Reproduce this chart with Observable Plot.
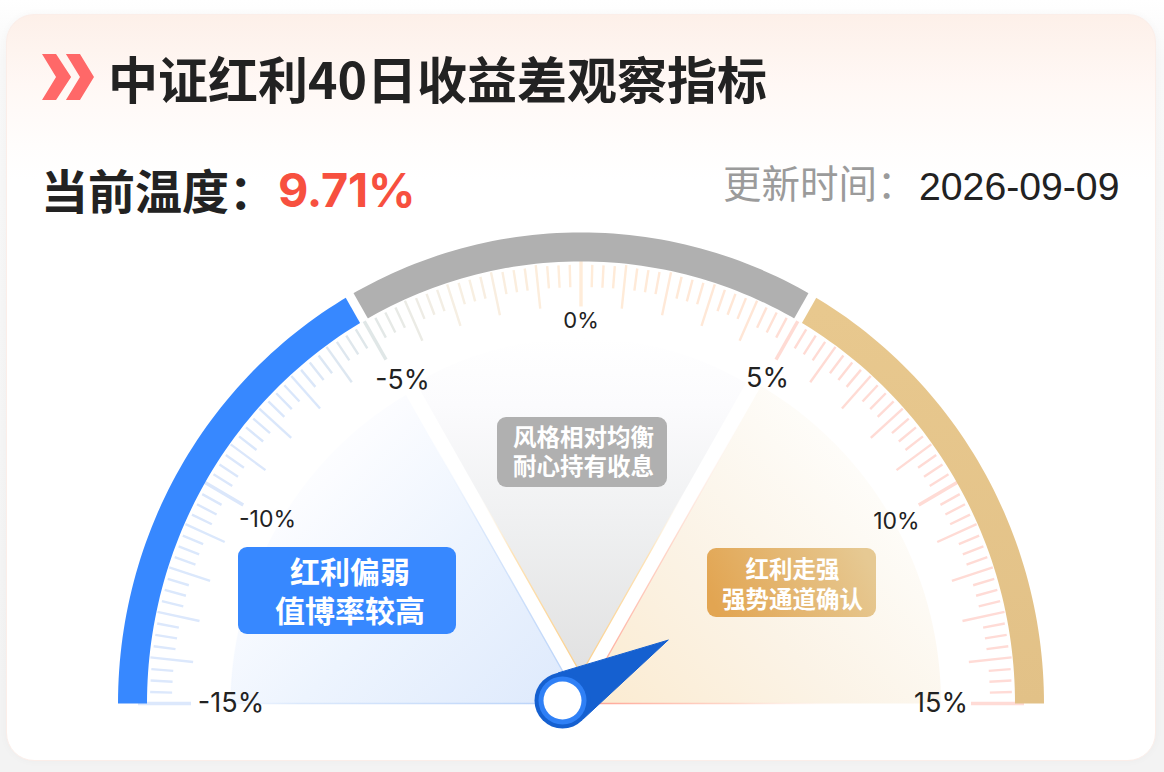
<!DOCTYPE html>
<html lang="zh">
<head>
<meta charset="utf-8">
<script src="https://cdn.jsdelivr.net/npm/d3@7"></script>
<script src="https://cdn.jsdelivr.net/npm/@observablehq/plot@0.6"></script>
<style>
  html,body{margin:0;padding:0;width:1164px;height:772px;overflow:hidden;
    background:linear-gradient(180deg,#fff 0,#f8f8f8 60px,#f3f3f3 700px);}
  #card{position:absolute;left:6px;top:14px;width:1150px;height:747px;border-radius:28px;box-sizing:border-box;
    border:1px solid #fbeee9;overflow:hidden;background:linear-gradient(180deg,#fdf0e9 0,#fff8f5 70px,#fffdfc 130px,#fff 165px,#fff 100%);
    box-shadow:0 0 8px rgba(0,0,0,.03);}
  .abs{position:absolute;white-space:nowrap;line-height:1;}
  #chev{left:42px;top:54px;width:52px;height:46px;background:#ff6868;
    clip-path:polygon(0 0,27% 0,56% 50%,27% 100%,0 100%,27% 50%,0 0, 46% 0,73% 0,100% 50%,73% 100%,46% 100%,73% 50%,46% 0);}
  #title{left:108px;top:41px;font:600 50px "Noto Sans CJK SC",sans-serif;color:#222;}
  #temp{left:41px;top:154px;font:600 47px "Noto Sans CJK SC",sans-serif;color:#222;}
  #val{left:278px;top:162px;font:700 46.8px Inter,"Liberation Sans",sans-serif;color:#f7503f;letter-spacing:-.2px;}
  #upd{left:723px;top:153px;font:400 38.5px "Noto Sans CJK SC",sans-serif;color:#9b9b9b;}
  #date{left:919px;top:165px;font:400 39.2px "Liberation Sans",sans-serif;color:#222;}
  #plot{position:absolute;left:0;top:225px;}
  #plot svg{display:block;background:transparent;}
</style>
</head>
<body>
<div id="card"></div>
<div class="abs" id="chev"></div>
<div class="abs" id="title">中证红利40日收益差观察指标</div>
<div class="abs" id="temp">当前温度：</div>
<div class="abs" id="val">9.71%</div>
<div class="abs" id="upd">更新时间：</div>
<div class="abs" id="date">2026-09-09</div>
<div id="plot"></div>
<script>
// ---------- data ----------
const currentValue = 9.71;
const zoneStart  = [-15, -5, 5];
const zoneEnd    = [-5, 5, 15];
const zoneColors = ["url(#bandBlue)", "#b0b0b0", "url(#bandGold)"];
const labelValues = [-15, -10, -5, 0, 5, 10, 15];
const labelTexts  = ["-15%", "-10%", "-5%", "0%", "5%", "10%", "15%"];
const pillTexts   = ["红利偏弱\n值博率较高", "风格相对均衡\n耐心持有收息", "红利走强\n强势通道确认"];
const tickColorStops = [-15, -7, -5, -3, 0, 4, 5, 15];
const tickColorRange = ["#dce8fc", "#dae7fb", "#e0e7e7", "#f6efe3", "#ffecd9", "#ffe6d6", "#ffdbd4", "#ffdbd6"];

// ---------- geometry of the gauge (display settings, not data) ----------
const W = 1164, H = 547, cxPx = 580.5, cyPx = 478, yStretch = 1.018;
const degPerUnit = 6, startDeg = 180;
const bandR = 448.5, bandW = 29;
const labelR = [351, 362, 364, 376, 369, 363, 360];
const labelDx = [1, 0, 3.5, 0, 2, 1, 0];
const labelDy = [0, 0, 2, 0, 0, -3, 0];
const labelSize = [27, 23, 26.5, 22, 27, 23, 27];
const rad = v => (startDeg - (v + 15) * degPerUnit) * Math.PI / 180;
const px = (v, r) => r * Math.cos(rad(v));
const py = (v, r) => r * Math.sin(rad(v));
const arc = (a, b, r) => d3.range(0, 61).map(i => {
  const v = a + (b - a) * i / 60;
  return {x: px(v, r), y: py(v, r)};
});

const ticks = d3.range(0, 121).map(i => {
  const v = -15 + i * 0.25;
  const kind = i % 20 === 0 ? 2 : i % 4 === 0 ? 1 : 0;
  return {v, kind, r1: kind ? 390 : 409, r2: kind === 2 ? 443 : kind ? 433 : 431};
});

const wedge = (a, b, r, ox, oy) => [{x: ox, y: oy}, ...arc(a, b, r).map(p => ({x: ox + p.x, y: oy + p.y})), {x: ox, y: oy}];
const wedgeBlue = wedge(-15, -5, 350, 0, 0);
const wedgeGray = wedge(-5, 5, 330, 0, 29);
const wedgeGold = wedge(5, 15, 360, 0, 0);

// needle
const pivot = {x: -18.5, y: 2.9};
const needleLen = 121, trimDeg = 2.4;
const nAng = rad(currentValue) - trimDeg * Math.PI / 180;
const tip = {x: pivot.x + needleLen * Math.cos(nAng), y: pivot.y + needleLen * Math.sin(nAng)};
const tangentA = nAng + 1.22, tangentB = nAng - 1.22, hub = 27.5;
const needle = [
  tip,
  {x: pivot.x + hub * Math.cos(tangentA), y: pivot.y + hub * Math.sin(tangentA)},
  {x: pivot.x + hub * Math.cos(tangentB), y: pivot.y + hub * Math.sin(tangentB)},
  tip
];

// pills, given in gauge units from the centre
const toX = p => p - cxPx, toY = p => (cyPx + 225 - p) / yStretch;
const pills = [
  {x1: toX(238), x2: toX(456), y1: toY(634), y2: toY(547), fill: "#3788ff", tx: toX(349.5), ty: toY(589.5), size: 30, lh: 1.3, text: pillTexts[0]},
  {x1: toX(497), x2: toX(667), y1: toY(487), y2: toY(417), fill: "#b0b0b0", tx: toX(583), ty: toY(451), size: 23.5, lh: 1.23, text: pillTexts[1]},
  {x1: toX(707), x2: toX(876), y1: toY(617), y2: toY(548), fill: "url(#pillGold)", tx: toX(792), ty: toY(583), size: 23.5, lh: 1.27, text: pillTexts[2]}
];

const grad = (id, x1, y1, x2, y2, stops) => {
  const g = d3.create("svg:linearGradient").attr("id", id)
    .attr("x1", x1).attr("y1", y1).attr("x2", x2).attr("y2", y2);
  stops.forEach(([o, c, a]) => g.append("stop").attr("offset", o).attr("stop-color", c).attr("stop-opacity", a));
  return g.node();
};
const defsMark = () => {
  const d = d3.create("svg:defs");
  [
    grad("bandBlue", 0, 1, 1, 0, [[0, "#3788ff", 1], [1, "#3788ff", 1]]),
    grad("bandGold", 0, 0, 0, 1, [[0, "#e8c88e", 1], [1, "#e2c187", 1]]),
    grad("pillGold", 0, .6, 1, .4, [[0, "#e2a552", 1], [1, "#e6c993", 1]]),
    grad("fillBlue", 1, 1, .1, .2, [[0, "#dde9fc", 1], [.5, "#edf4fe", 1], [.85, "#fbfcff", 1], [1, "#ffffff", .8]]),
    grad("fillGold", 0, 1, .85, .3, [[0, "#fbebd0", 1], [.5, "#fbf3e6", 1], [1, "#fefdfa", 1]]),
    grad("fillGray", 0, 1, 0, 0, [[0, "#e1e1e1", 1], [.45, "#eff0f1", 1], [.8, "#fbfbfd", 1], [1, "#ffffff", 1]]),
    grad("edgeBlue", 1, 1, .1, .2, [[0, "#b5d0f8", 1], [.5, "#d4e4fb", .8], [.78, "#ffffff", 0], [1, "#ffffff", 0]]),
    grad("edgeGold", 0, 1, .75, .75, [[0, "#ff9f90", 1], [.5, "#ffc9ba", .7], [.95, "#ffffff", 0], [1, "#ffffff", 0]]),
    grad("edgeGray", .5, 1, .5, .45, [[0, "#fbd08c", 1], [.65, "#fde3b8", 1], [1, "#ffffff", 0]])
  ].forEach(n => d.node().appendChild(n));
  return d.node();
};

const cjk = "Noto Sans CJK SC";
const chart = Plot.plot({
  width: W, height: H,
  margin: 0,
  style: {background: "transparent", overflow: "visible"},
  x: {type: "linear", domain: [-cxPx, W - cxPx], range: [0, W], axis: null},
  y: {type: "linear", domain: [cyPx / yStretch, (cyPx - H) / yStretch], range: [0, H], axis: null},
  color: {type: "linear", domain: tickColorStops, range: tickColorRange, legend: false},
  marks: [
    defsMark,
    // sectors
    Plot.line(wedgeBlue, {x: "x", y: "y", fill: "url(#fillBlue)", stroke: "url(#edgeBlue)", strokeWidth: 1.4, curve: "linear"}),
    Plot.line(wedgeGray, {x: "x", y: "y", fill: "url(#fillGray)", stroke: "url(#edgeGray)", strokeWidth: 1.4, curve: "linear"}),
    Plot.line(wedgeGold, {x: "x", y: "y", fill: "url(#fillGold)", stroke: "url(#edgeGold)", strokeWidth: 1.4, curve: "linear"}),
    // tick marks
    Plot.link(ticks.filter(d => d.kind === 0), {
      x1: d => px(d.v, d.r1), y1: d => py(d.v, d.r1),
      x2: d => px(d.v, d.r2), y2: d => py(d.v, d.r2),
      stroke: "v", strokeWidth: 2.4, strokeLinecap: "butt"
    }),
    Plot.link(ticks.filter(d => d.kind === 1), {
      x1: d => px(d.v, d.r1), y1: d => py(d.v, d.r1),
      x2: d => px(d.v, d.r2), y2: d => py(d.v, d.r2),
      stroke: "v", strokeWidth: 2.4, strokeLinecap: "butt"
    }),
    Plot.link(ticks.filter(d => d.kind === 2), {
      x1: d => px(d.v, d.r1), y1: d => py(d.v, d.r1),
      x2: d => px(d.v, d.r2), y2: d => py(d.v, d.r2),
      stroke: "v", strokeWidth: 3.4, strokeLinecap: "butt"
    }),
    // coloured band with white gaps
    ...zoneStart.map((s, i) => Plot.line(arc(s, zoneEnd[i], bandR), {
      x: "x", y: "y", stroke: zoneColors[i], strokeWidth: bandW, strokeLinecap: "butt", curve: "linear"
    })),
    Plot.link([-5, 5], {
      x1: d => px(d, bandR - bandW / 2 - 0.5), y1: d => py(d, bandR - bandW / 2 - 0.5),
      x2: d => px(d, bandR + bandW / 2 + 2), y2: d => py(d, bandR + bandW / 2 + 2),
      stroke: "#fff", strokeWidth: 9
    }),
    // value labels
    Plot.text(labelValues, {
      x: (d, i) => px(d, labelR[i]) + labelDx[i], y: (d, i) => py(d, labelR[i]) + labelDy[i],
      text: (d, i) => labelTexts[i], fontSize: (d, i) => labelSize[i],
      fontFamily: "Inter, Liberation Sans, sans-serif", letterSpacing: "-0.04em", fill: "#222"
    }),
    // zone pills
    Plot.rect(pills, {x1: "x1", x2: "x2", y1: "y1", y2: "y2", fill: "fill", rx: 9}),
    ...pills.map(p => Plot.text([p], {
      x: "tx", y: "ty", text: "text", fill: "#fff", fontSize: p.size, lineHeight: p.lh,
      fontFamily: cjk, fontWeight: 600, textAnchor: "middle"
    })),
    // needle
    Plot.line(needle, {x: "x", y: "y", fill: "#1560d0", stroke: "#1560d0", strokeWidth: 1, strokeLinejoin: "miter", curve: "linear"}),
    Plot.dot([pivot], {x: "x", y: "y", r: 28, fill: "#1560d0"}),
    Plot.dot([pivot], {x: "x", y: "y", r: 24, fill: "#2f80f6"}),
    Plot.dot([pivot], {x: "x", y: "y", r: 19, fill: "#fff"})
  ]
});
document.getElementById("plot").appendChild(chart);
</script>
</body>
</html>
